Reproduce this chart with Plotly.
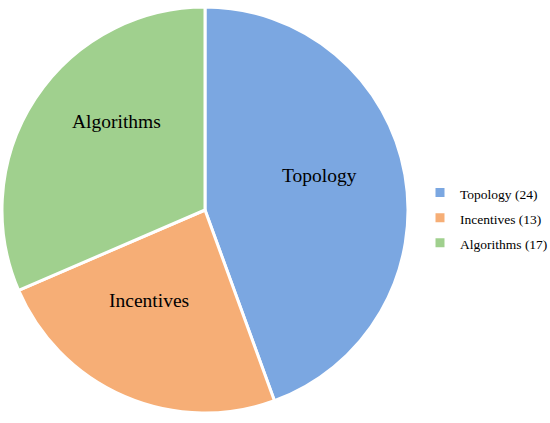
import plotly.graph_objects as go

categories = ["Topology", "Incentives", "Algorithms"]
values = [24, 13, 17]
legend_labels = [f"{c} ({v})" for c, v in zip(categories, values)]
colors = ["#7ba7e1", "#f6ae76", "#a0d08e"]

# in-slice label anchor points (pixels from top-left of the figure)
label_pos = {"Topology": (319, 176), "Incentives": (149, 300), "Algorithms": (116, 122)}

W, H = 550, 423
fig = go.Figure(go.Pie(
    labels=[f'<span style="font-size:13.5px">{l}</span>' for l in legend_labels],
    values=values,
    textinfo="none",
    sort=False,
    direction="clockwise",
    rotation=0,
    marker=dict(colors=colors, line=dict(color="white", width=3)),
    domain=dict(x=[2 / W, 408 / W], y=[9 / H, 417 / H]),
    hoverinfo="value+percent",
))
for c in categories:
    px, py = label_pos[c]
    fig.add_annotation(x=px / W, y=1 - py / H, xref="paper", yref="paper",
                       text=c, showarrow=False, xanchor="center", yanchor="middle",
                       font=dict(family="Liberation Serif", size=19.5, color="black"))
fig.update_layout(
    width=W, height=H,
    margin=dict(l=0, r=0, t=0, b=0, autoexpand=False),
    paper_bgcolor="white",
    plot_bgcolor="white",
    font=dict(family="Liberation Serif", size=13, color="black"),
    legend=dict(x=420 / W, xanchor="left", y=1 - 218 / H, yanchor="middle",
                font=dict(family="Liberation Serif", size=17, color="black"),
                bgcolor="rgba(0,0,0,0)"),
)
fig.write_html("out.html", config={"displayModeBar": False},
               post_script="document.body.style.margin='0';")
